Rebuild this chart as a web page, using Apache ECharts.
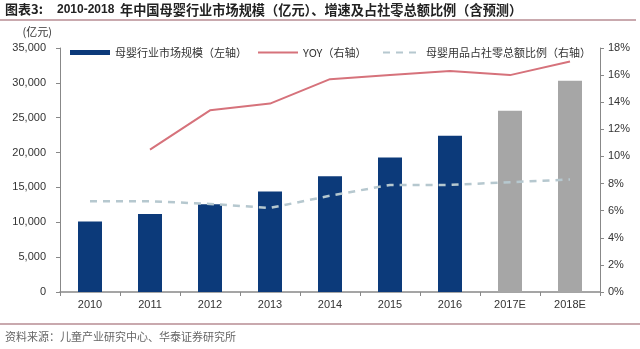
<!DOCTYPE html>
<html>
<head>
<meta charset="utf-8">
<script src="https://cdn.jsdelivr.net/npm/echarts@6/dist/echarts.min.js"></script>
<style>
html,body{margin:0;padding:0;background:#fff;}
#chart{width:640px;height:349px;}
</style>
</head>
<body>
<div id="chart"></div>
<script>
// ---- data ----
const categories = ['2010','2011','2012','2013','2014','2015','2016','2017E','2018E'];
const marketSize = [10100, 11200, 12600, 14400, 16600, 19300, 22400, 26000, 30300]; // 亿元
const yoy = [null, 10.5, 13.4, 13.9, 15.7, 16.0, 16.3, 16.0, 17.0]; // %
const retailShare = [6.7, 6.7, 6.5, 6.2, 7.1, 7.9, 7.9, 8.1, 8.3]; // %
const leftTicks = {min: 0, max: 35000, interval: 5000};
const rightTicks = {min: 0, max: 18, interval: 2};
const seriesNames = ['母婴行业市场规模（左轴）', 'YOY（右轴）', '母婴用品占社零总额比例（右轴）'];

const NAVY = '#0c3a7a', GREY = '#a6a6a6', RED = '#d6727b', DASH = '#b6c8cf';
const FONT = '"Liberation Sans", Arial, "Noto Sans CJK SC", sans-serif';
const CJK = '"Noto Sans CJK SC", sans-serif';

const chart = echarts.init(document.getElementById('chart'), null, {renderer: 'canvas'});
const legendText = {fontSize: 11, color: '#333', fontFamily: CJK};
chart.setOption({
  animation: false,
  backgroundColor: '#fff',
  grid: {left: 60, right: 40, top: 48, bottom: 57},
  legend: [
    {left: 70, top: 47, padding: 0, itemWidth: 40, itemHeight: 5, textStyle: legendText,
     data: [{name: seriesNames[0], icon: 'rect', itemStyle: {color: NAVY}}]},
    {left: 257, top: 47, padding: 0, itemWidth: 40, itemHeight: 5, textStyle: legendText,
     data: [{name: seriesNames[1], itemStyle: {opacity: 0}}]},
    {left: 382, top: 47, padding: 0, itemWidth: 38, itemHeight: 5, textStyle: legendText,
     data: [{name: seriesNames[2], itemStyle: {opacity: 0}}]}
  ],
  graphic: [
    {type: 'text', left: 5, top: 3, style: {text: '图表3:', font: 'bold 13px ' + CJK, fill: '#222'}},
    {type: 'text', left: 57, top: 4, style: {text: '2010-2018', font: 'bold 12px "Liberation Sans", Arial', fill: '#222'}},
    {type: 'text', left: 120, top: 3, style: {text: '年中国母婴行业市场规模（亿元）、增速及占社零总额比例（含预测）', font: 'bold 13.2px ' + CJK, fill: '#222'}},
    {type: 'line', shape: {x1: 0, y1: 20, x2: 636, y2: 20}, style: {stroke: '#c9a9ae', lineWidth: 2}},
    {type: 'line', shape: {x1: 0, y1: 324, x2: 640, y2: 324}, style: {stroke: '#c9a9ae', lineWidth: 2}},
    {type: 'text', left: 5, top: 331, style: {text: '资料来源：儿童产业研究中心、华泰证券研究所', font: '11px ' + CJK, fill: '#666'}}
  ],
  xAxis: {
    type: 'category', data: categories,
    axisLine: {lineStyle: {color: '#888', width: 1.5}},
    axisTick: {show: true, length: 4, lineStyle: {color: '#888'}},
    axisLabel: {color: '#333', fontSize: 11, fontFamily: FONT, margin: 7}
  },
  yAxis: [
    {type: 'value', min: leftTicks.min, max: leftTicks.max, interval: leftTicks.interval,
     name: '(亿元)', nameLocation: 'end', nameGap: 16,
     nameTextStyle: {align: 'right', padding: [0, 8, 0, 0], color: '#333', fontSize: 11, fontFamily: CJK, verticalAlign: 'middle'},
     axisLine: {show: true, lineStyle: {color: '#888'}},
     axisTick: {show: true, length: 4, lineStyle: {color: '#888'}},
     splitLine: {show: false},
     axisLabel: {color: '#333', fontSize: 11, fontFamily: FONT, margin: 14,
       formatter: v => v.toLocaleString('en-US')}},
    {type: 'value', min: rightTicks.min, max: rightTicks.max, interval: rightTicks.interval,
     position: 'right',
     axisLine: {show: true, lineStyle: {color: '#888'}},
     axisTick: {show: true, length: 4, lineStyle: {color: '#888'}},
     splitLine: {show: false},
     axisLabel: {color: '#333', fontSize: 11, fontFamily: FONT, margin: 8, formatter: '{value}%'}}
  ],
  series: [
    {name: seriesNames[0], type: 'bar', yAxisIndex: 0, data: marketSize, barWidth: 24,
     itemStyle: {color: p => (/E$/.test(categories[p.dataIndex]) ? GREY : NAVY)}},
    {name: seriesNames[1], type: 'line', yAxisIndex: 1, data: yoy, symbol: 'none',
     itemStyle: {color: RED}, lineStyle: {color: RED, width: 2}, z: 3},
    {name: seriesNames[2], type: 'line', yAxisIndex: 1, data: retailShare, symbol: 'none',
     itemStyle: {color: DASH}, lineStyle: {color: DASH, width: 2.5, type: [7, 6]}, z: 4}
  ]
});
</script>
</body>
</html>
